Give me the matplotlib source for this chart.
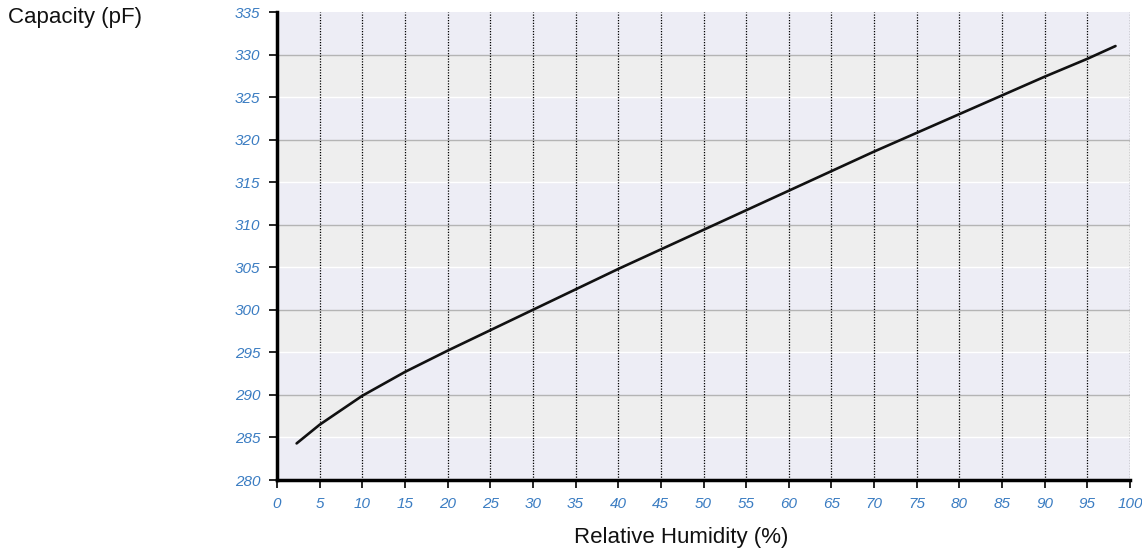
import matplotlib
matplotlib.use("Agg")
import matplotlib.pyplot as plt

# Data
humidity = [2.3, 5, 10, 15, 20, 25, 30, 35, 40, 45, 50, 55, 60, 65, 70, 75, 80, 85, 90, 95, 98.3]
capacity = [284.3, 286.5, 289.9, 292.7, 295.2, 297.6, 300.0, 302.4, 304.8, 307.1, 309.4,
            311.7, 314.0, 316.3, 318.6, 320.8, 323.0, 325.2, 327.4, 329.5, 331.0]
x_ticks = list(range(0, 101, 5))
y_ticks = list(range(280, 336, 5))
x_label = "Relative Humidity (%)"
y_label = "Capacity (pF)"

plt.rcParams['font.family'] = ['Liberation Sans', 'DejaVu Sans']

fig = plt.figure(figsize=(11.42, 5.52), dpi=100)
ax = fig.add_axes([277/1142, 1-480/552, (1130-277)/1142, (480-12)/552])

blue_band = "#ededf5"
gray_band = "#eeeeee"
ax.set_facecolor(blue_band)
for lo in y_ticks[:-1]:
    if lo % 10 == 5:
        ax.axhspan(lo, lo + 5, color=gray_band, zorder=0, lw=0)
for yv in y_ticks[1:-1]:
    ax.axhline(yv, color="#b4b4b4" if yv % 10 == 0 else "white", lw=1.0, zorder=1)
for xv in x_ticks[1:]:
    ax.axvline(xv, color="black", lw=0.9, linestyle=(0, (1, 1.2)), zorder=2)

ax.plot(humidity, capacity, color="#111111", lw=1.9, zorder=3,
        solid_capstyle='round', solid_joinstyle='round')

ax.set_xlim(0, 100)
ax.set_ylim(280, 335)
ax.set_xticks(x_ticks)
ax.set_yticks(y_ticks)
tick_color = "#3a7cc2"
ax.set_xticklabels([str(t) for t in x_ticks], fontstyle='italic', color=tick_color, fontsize=11)
ax.set_yticklabels([str(t) for t in y_ticks], fontstyle='italic', color=tick_color, fontsize=11)
ax.tick_params(axis='both', direction='out', length=6, width=1.2, color='black', pad=6)

for s in ['top', 'right']:
    ax.spines[s].set_visible(False)
for s in ['left', 'bottom']:
    ax.spines[s].set_linewidth(2.5)
    ax.spines[s].set_color('black')

fig.text(8/1142, 1-18/552, y_label, fontsize=16, ha='left', va='center', color='#111111')
fig.text(681/1142, 1-537/552, x_label, fontsize=16, ha='center', va='center', color='#111111')

fig.savefig("out.png", dpi=100, facecolor='white')
